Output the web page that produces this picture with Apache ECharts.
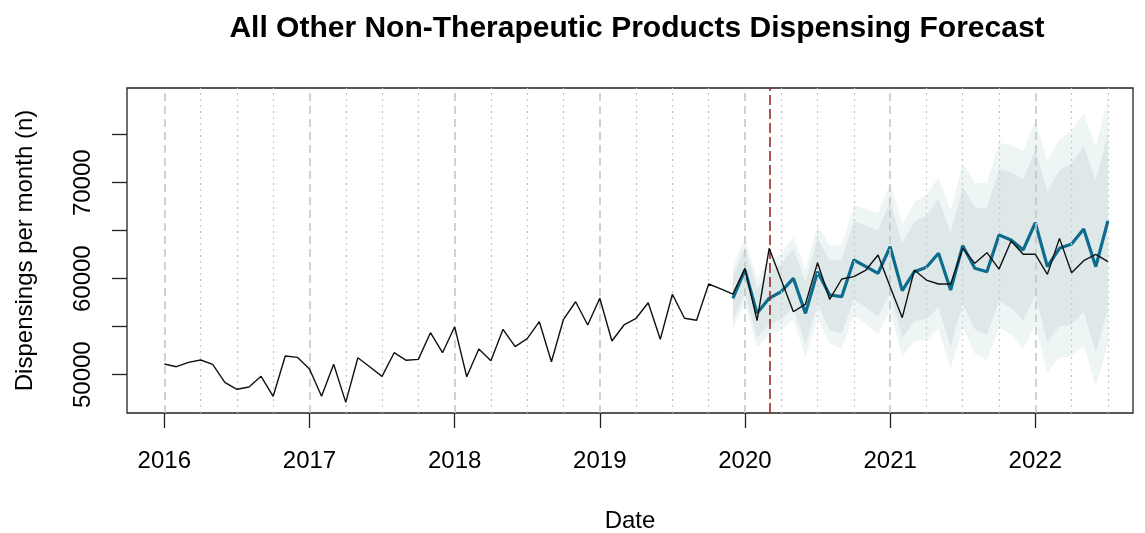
<!DOCTYPE html>
<html>
<head>
<meta charset="utf-8">
<title>All Other Non-Therapeutic Products Dispensing Forecast</title>
<script src="https://cdn.jsdelivr.net/npm/echarts@6/dist/echarts.min.js"></script>
<style>
  html, body { margin: 0; padding: 0; background: #fff; }
  #main { width: 1145px; height: 533px; }
</style>
</head>
<body>
<div id="main"></div>
<script>
// monthly series, first month = Jan 2016
var startYear = 2016;

var actual = [
  51115, 50833, 51290, 51530, 51080, 49210, 48480, 48720, 49830, 47750, 51950, 51810,
  50590, 47750, 51080, 47120, 51770, 50800, 49830, 52290, 51500, 51600, 54375, 52290,
  55000, 49790, 52680, 51460, 54730, 52920, 53750, 55520, 51350, 55770, 57600, 55180,
  57960, 53510, 55180, 55875, 57500, 53690, 58375, 55875, 55670, 59450, 58930, 58400,
  61080, 55630, 63160, 59860, 56560, 57360, 61670, 57850, 59970, 60210, 60900, 62470,
  59170, 55940, 60900, 59860, 59450, 59450, 63160, 61600, 62710, 61000, 63920, 62540,
  62540, 60450, 64200, 60630, 61880, 62540, 61770
];

// forecast starts Dec 2019 (month index 47)
var fcStart = 47;
var forecast = [
  57960, 60900, 56390, 57960, 58650, 60040, 56390, 60730, 58300, 58125, 61950, 61250,
  60560, 63330, 58750, 60730, 61190, 62650, 58820, 63440, 61080, 60730, 64550, 64030,
  63000, 65830, 61250, 63160, 63610, 65180, 61250, 66010
];
var upper95 = [
  61170, 64270, 59960, 61750, 62690, 64330, 60940, 65560, 63400, 63520, 67640, 67230,
  66850, 69940, 65660, 67960, 68740, 70540, 67050, 72000, 69980, 69960, 74130, 73960,
  73300, 76480, 72250, 74520, 75340, 77270, 73720, 78840
];
var upper80 = [
  60250, 63310, 58940, 60670, 61540, 63100, 59640, 64180, 61950, 61980, 66010, 65520,
  65050, 68050, 63690, 65900, 66590, 68290, 64700, 69560, 67430, 67320, 71390, 71120,
  70350, 73430, 69100, 71280, 71990, 73820, 70160, 75180
];
var lower80 = [
  55670, 58490, 53840, 55250, 55770, 56980, 53140, 57280, 54650, 54270, 57890, 56980,
  56070, 58610, 53810, 55560, 55790, 57010, 52950, 57330, 54730, 54140, 57710, 56940,
  55650, 58230, 53400, 55050, 55240, 56540, 52340, 56840
];
var lower95 = [
  54750, 57530, 52820, 54170, 54610, 55750, 51840, 55900, 53200, 52730, 56260, 55270,
  54270, 56720, 51840, 53500, 53640, 54760, 50600, 54880, 52180, 51500, 54970, 54100,
  52700, 55180, 50250, 51800, 51890, 53090, 48780, 53180
];

var yearTicks = [2016, 2017, 2018, 2019, 2020, 2021, 2022];
var yTicks = [50000, 55000, 60000, 65000, 70000, 75000];
var yLabels = [50000, 60000, 70000];
var cutoff = 2020 + 2 / 12; // March 2020

function monthX(i) { return startYear + i / 12; }

var actualData = actual.map(function (v, i) { return [monthX(i), v]; });
function fc(arr) { return arr.map(function (v, k) { return [monthX(fcStart + k), v]; }); }

var quarterLines = [];
for (var q = 2016.25; q <= 2022.5001; q += 0.25) {
  if (Math.abs(q - Math.round(q)) > 0.01) quarterLines.push({ xAxis: q });
}
var yearLines = yearTicks.map(function (y) { return { xAxis: y }; });

var font = 'Liberation Sans, Arial, Helvetica, sans-serif';

// prediction interval drawn as one polygon: upper edge then lower edge backwards
function band(name, upper, lower, color, z) {
  return {
    type: 'custom', name: name, z: z, silent: true,
    data: fc(upper).concat(fc(lower)),
    encode: { x: 0, y: 1 },
    renderItem: function (params, api) {
      if (params.dataIndex !== 0) return;
      var pts = [];
      for (var k = 0; k < upper.length; k++) pts.push(api.coord([monthX(fcStart + k), upper[k]]));
      for (var j = lower.length - 1; j >= 0; j--) pts.push(api.coord([monthX(fcStart + j), lower[j]]));
      return { type: 'polygon', shape: { points: pts }, style: { fill: color } };
    }
  };
}

var myChart = echarts.init(document.getElementById('main'));

var option = {
  animation: false,
  backgroundColor: '#ffffff',
  title: {
    text: 'All Other Non-Therapeutic Products Dispensing Forecast',
    left: 632,
    top: 9,
    textAlign: 'center',
    textStyle: { fontFamily: font, fontSize: 30, fontWeight: 'bold', color: '#000' }
  },
  grid: {
    left: 127, right: 12, top: 88, bottom: 120,
    outerBoundsMode: 'none',
    show: true, borderColor: '#222', borderWidth: 1.3, backgroundColor: 'transparent'
  },
  xAxis: {
    type: 'value',
    min: 2015.743,
    max: 2022.673,
    name: 'Date',
    nameLocation: 'middle',
    nameGap: 96,
    nameTextStyle: { fontFamily: font, fontSize: 24, color: '#000' },
    axisLine: { show: false },
    splitLine: { show: false },
    axisTick: { show: true, customValues: yearTicks, length: 15, inside: false, lineStyle: { color: '#222', width: 1.3 } },
    axisLabel: { customValues: yearTicks, margin: 36, fontFamily: font, fontSize: 24, color: '#000',
      formatter: function (v) { return String(Math.round(v)); } }
  },
  yAxis: {
    type: 'value',
    min: 46010,
    max: 79865,
    name: 'Dispensings per month (n)',
    nameLocation: 'middle',
    nameRotate: 90,
    nameGap: 90,
    nameTextStyle: { fontFamily: font, fontSize: 24, color: '#000' },
    axisLine: { show: false },
    splitLine: { show: false },
    axisTick: { show: true, customValues: yTicks, length: 15, lineStyle: { color: '#222', width: 1.3 } },
    axisLabel: { customValues: yLabels, rotate: 90, margin: 32, fontFamily: font, fontSize: 24, color: '#000',
      formatter: function (v) { return String(Math.round(v)); } }
  },
  series: [
    band('95% interval', upper95, lower95, '#edf5f5', 1),
    band('80% interval', upper80, lower80, '#dfe8e9', 1.1),
    { type: 'line', name: 'quarters', data: [], z: 3, silent: true,
      markLine: { symbol: 'none', silent: true, label: { show: false },
        lineStyle: { color: '#c8c8c8', type: [2, 4], width: 1.2 }, data: quarterLines } },
    { type: 'line', name: 'years', data: [], z: 3, silent: true,
      markLine: { symbol: 'none', silent: true, label: { show: false },
        lineStyle: { color: '#c4c4c4', type: [8, 5], width: 1.5 }, data: yearLines } },
    { type: 'line', name: 'Forecast', data: fc(forecast), symbol: 'none', z: 4,
      lineStyle: { color: '#0d6c8d', width: 3.2 } },
    { type: 'line', name: 'Actual', data: actualData, symbol: 'none', z: 5,
      lineStyle: { color: '#111', width: 1.4 },
      markLine: { symbol: 'none', silent: true, label: { show: false },
        lineStyle: { color: '#9a2a2a', type: [10, 4], width: 1.6 }, data: [{ xAxis: cutoff }] } }
  ]
};

myChart.setOption(option);
</script>
</body>
</html>
